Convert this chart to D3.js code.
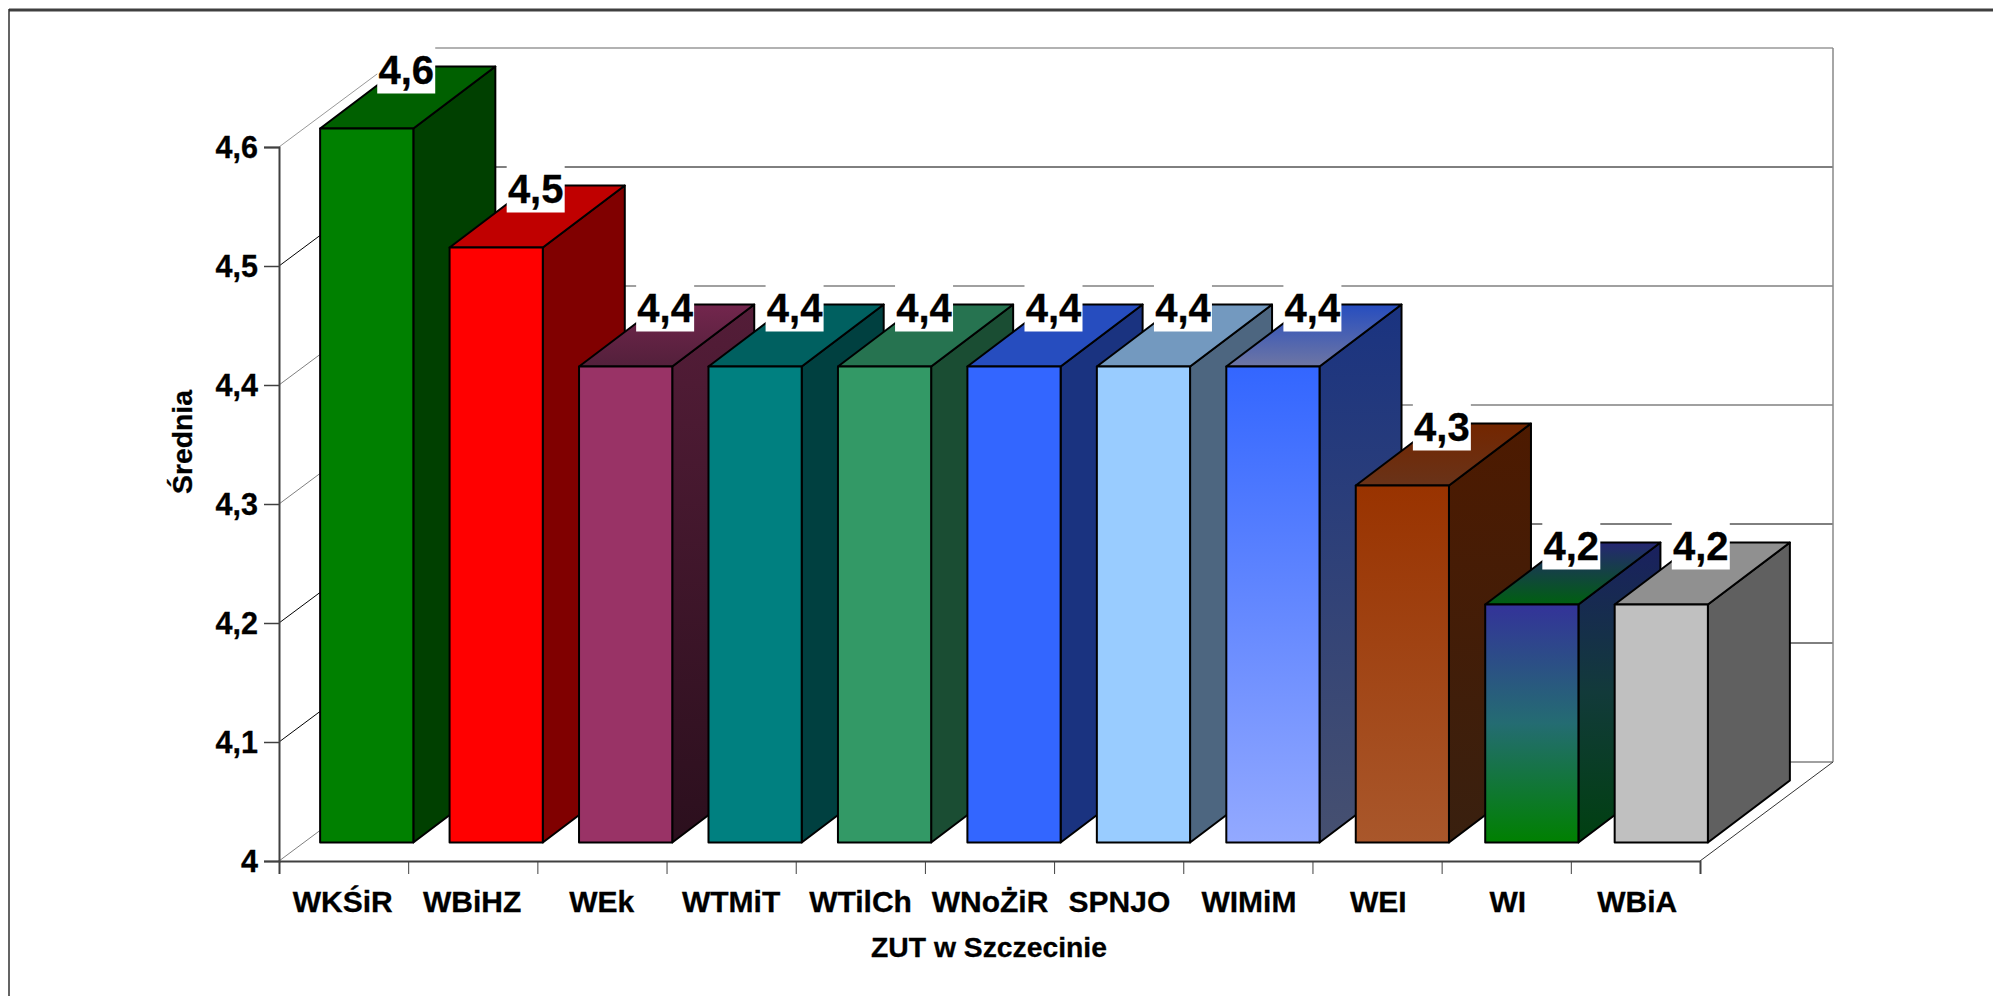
<!DOCTYPE html>
<html>
<head>
<meta charset="utf-8">
<script src="https://cdn.jsdelivr.net/npm/d3@7"></script>
<style>
  html, body { margin: 0; padding: 0; background: #fff; overflow: hidden; }
  svg { display: block; }
  text { font-family: "Liberation Sans", Arial, sans-serif; font-weight: bold; fill: #000; stroke: #000; stroke-width: 0.3px; }
</style>
</head>
<body>
<script>
// Data
var categories = ["WKŚiR", "WBiHZ", "WEk", "WTMiT", "WTilCh", "WNoŻiR", "SPNJO", "WIMiM", "WEI", "WI", "WBiA"];
var values = [4.6, 4.5, 4.4, 4.4, 4.4, 4.4, 4.4, 4.4, 4.3, 4.2, 4.2];
var yTicks = [4, 4.1, 4.2, 4.3, 4.4, 4.5, 4.6];

// Colours per bar: front, side and top face, top to bottom of the face
var frontColors = [["#008000", "#008000"], ["#ff0000", "#ff0000"], ["#993366", "#993366"], ["#008080", "#008080"],
  ["#339966", "#339966"], ["#3366ff", "#3366ff"], ["#99ccff", "#99ccff"], ["#3366ff", "#93a9ff"],
  ["#993300", "#a9572b"], ["#333399", "#246c72", "#008000"], ["#c0c0c0", "#c0c0c0"]];
var sideColors = [["#004000", "#004000"], ["#800000", "#800000"], ["#541d38", "#2b0f1d"], ["#004040", "#004040"],
  ["#1a4d33", "#1a4d33"], ["#1a3380", "#1a3380"], ["#4d6680", "#4d6680"], ["#1a3380", "#465070"],
  ["#4d1a00", "#39200f"], ["#1a2060", "#123a3a", "#004010"], ["#606060", "#606060"]];
var topColors = [["#006000", "#006000"], ["#c00000", "#c00000"], ["#73264d", "#53203b"], ["#006060", "#006060"],
  ["#267350", "#267350"], ["#264dbf", "#264dbf"], ["#7399bf", "#7399bf"], ["#264dbf", "#6e76a4"],
  ["#732600", "#693319"], ["#262673", "#006010"], ["#909090", "#909090"]];
var gridColors = ["#808080", "#000000", "#000000", "#808080", "#808080", "#000000", "#999999"];

var w = 1993;
var h = 996;

// Front plane of the axes and how far the 3D box runs back
var left = 279;
var right = 1700;
var yBottom = 861;
var yTop = 147;
var wallDx = 133;
var wallDy = -99;

// Bars stand a little behind the front plane
var barDx = 24;
var barDy = -18.5;
var depthDx = 82;
var depthDy = -62;

var svg = d3.select("body").append("svg")
  .attr("width", w)
  .attr("height", h);

var defs = svg.append("defs");

var yScale = d3.scaleLinear()
  .domain([4, 4.6])
  .range([yBottom, yTop]);

var xBand = d3.scaleBand()
  .domain(categories)
  .range([left - 1, right + 2])
  .paddingInner(0.28)
  .paddingOuter(0.14);

var xEdge = d3.scaleLinear()
  .domain([0, categories.length])
  .range([left, right]);

function addGradient(id, colors) {
  var g = defs.append("linearGradient")
    .attr("id", id)
    .attr("x1", 0).attr("y1", 0)
    .attr("x2", 0).attr("y2", 1);
  colors.forEach(function(c, i) {
    g.append("stop")
      .attr("offset", (100 * i / (colors.length - 1)) + "%")
      .attr("stop-color", c);
  });
}

categories.forEach(function(c, i) {
  addGradient("front" + i, frontColors[i]);
  addGradient("side" + i, sideColors[i]);
  addGradient("top" + i, topColors[i]);
});

// Outer frame, only top and left are visible
svg.append("line").attr("x1", 9).attr("y1", 10).attr("x2", w).attr("y2", 10)
  .attr("stroke", "#404040").attr("stroke-width", 3);
svg.append("line").attr("x1", 9).attr("y1", 9).attr("x2", 9).attr("y2", h)
  .attr("stroke", "#303030").attr("stroke-width", 1.5);

// Back wall grid lines and the diagonals on the side wall
var grid = svg.append("g");

yTicks.forEach(function(t, i) {
  var y = yScale(t);
  var c = gridColors[i];
  grid.append("line")
    .attr("x1", left + wallDx).attr("y1", y + wallDy)
    .attr("x2", right + wallDx).attr("y2", y + wallDy)
    .attr("stroke", c).attr("stroke-width", c == "#000000" ? 1 : 1.5);
  grid.append("line")
    .attr("x1", left).attr("y1", y)
    .attr("x2", left + wallDx).attr("y2", y + wallDy)
    .attr("stroke", c).attr("stroke-width", 1);
});

// Right edge of the back wall and floor diagonal
grid.append("line")
  .attr("x1", right + wallDx).attr("y1", yScale(4.6) + wallDy)
  .attr("x2", right + wallDx).attr("y2", yScale(4) + wallDy)
  .attr("stroke", "#888").attr("stroke-width", 1.5);
grid.append("line")
  .attr("x1", right).attr("y1", yBottom)
  .attr("x2", right + wallDx).attr("y2", yBottom + wallDy)
  .attr("stroke", "#333").attr("stroke-width", 1);

// Axes
var yAxis = d3.axisLeft(yScale)
  .tickValues(yTicks)
  .tickSize(15)
  .tickPadding(6)
  .tickFormat(function(d) { return String(d).replace(".", ","); });

svg.append("g")
  .attr("transform", "translate(" + left + ",0)")
  .call(yAxis)
  .call(function(g) {
    g.select(".domain").attr("stroke", "#404040").attr("stroke-width", 2);
    g.selectAll(".tick line").attr("stroke", "#404040").attr("stroke-width", 1.5);
    g.selectAll("text").style("font-size", "30.5px").attr("fill", "#000").attr("dy", "0.36em");
  });

var xAxis = d3.axisBottom(xEdge)
  .tickValues(d3.range(categories.length + 1))
  .tickSize(13)
  .tickFormat("");

svg.append("g")
  .attr("transform", "translate(0," + yBottom + ")")
  .call(xAxis)
  .call(function(g) {
    g.select(".domain").attr("stroke", "#404040").attr("stroke-width", 2);
    g.selectAll(".tick line").attr("stroke", "#404040").attr("stroke-width", 1);
  });

svg.append("g").selectAll("text")
  .data(categories)
  .enter()
  .append("text")
  .attr("x", function(d) { return xBand(d) + xBand.bandwidth() / 2; })
  .attr("y", 911.5)
  .attr("text-anchor", "middle")
  .style("font-size", "30px")
  .text(function(d) { return d; });

// Axis titles
svg.append("text")
  .attr("x", 989)
  .attr("y", 957)
  .attr("text-anchor", "middle")
  .style("font-size", "28.3px")
  .text("ZUT w Szczecinie");

svg.append("text")
  .attr("transform", "translate(192,442) rotate(-90)")
  .attr("text-anchor", "middle")
  .style("font-size", "28.3px")
  .text("Średnia");

// Bars, left to right so every bar covers the side of the one before it
var bars = svg.append("g");

values.forEach(function(v, i) {
  var x0 = xBand(categories[i]) + barDx;
  var x1 = x0 + xBand.bandwidth();
  var y0 = yScale(v) + barDy;
  var y1 = yScale(4) + barDy;
  var g = bars.append("g")
    .attr("stroke", "#000")
    .attr("stroke-width", 2)
    .attr("stroke-linejoin", "round");

  // side face
  g.append("path")
    .attr("d", d3.line()([[x1, y0], [x1 + depthDx, y0 + depthDy], [x1 + depthDx, y1 + depthDy], [x1, y1]]) + "Z")
    .attr("fill", "url(#side" + i + ")");

  // top face
  g.append("path")
    .attr("d", d3.line()([[x0, y0], [x0 + depthDx, y0 + depthDy], [x1 + depthDx, y0 + depthDy], [x1, y0]]) + "Z")
    .attr("fill", "url(#top" + i + ")");

  // front face
  g.append("rect")
    .attr("x", x0)
    .attr("y", y0)
    .attr("width", x1 - x0)
    .attr("height", y1 - y0)
    .attr("fill", "url(#front" + i + ")");
});

// Value labels on a white box, above all the bars
var labels = svg.append("g");

values.forEach(function(v, i) {
  var cx = xBand(categories[i]) + xBand.bandwidth() / 2 + barDx + depthDx / 2 - 1.5;
  var back = yScale(v) + barDy + depthDy;
  labels.append("rect")
    .attr("x", cx - 29)
    .attr("y", back - 21)
    .attr("width", 58)
    .attr("height", 48)
    .attr("fill", "#fff");
  labels.append("text")
    .attr("x", cx)
    .attr("y", back + 17)
    .attr("text-anchor", "middle")
    .style("font-size", "40px")
    .text(String(v).replace(".", ","));
});
</script>
</body>
</html>
